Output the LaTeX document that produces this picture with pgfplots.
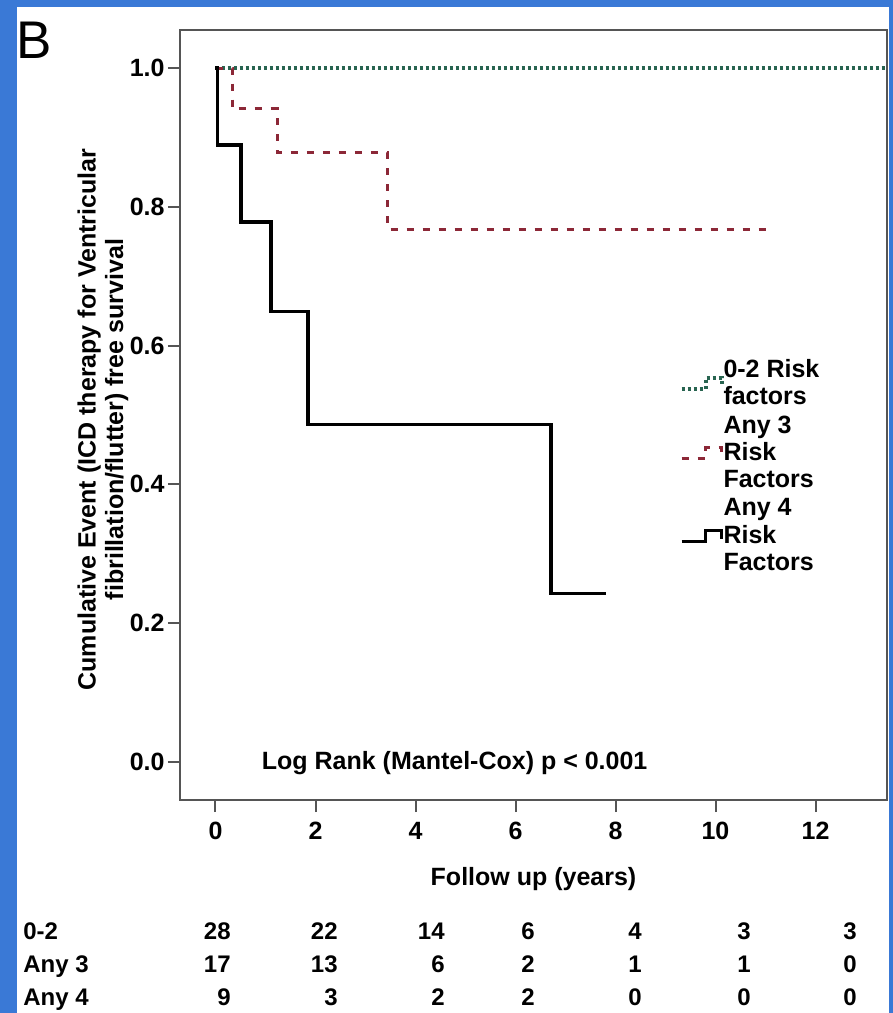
\documentclass[border=0pt]{standalone}
\usepackage{fontspec}
\setmainfont{Liberation Sans}
\usepackage{pgfplots}
\pgfplotsset{compat=1.18}

\definecolor{frameblue}{RGB}{58,121,214}
\definecolor{lowrisk}{RGB}{40,100,80}
\definecolor{midrisk}{RGB}{140,40,55}
\definecolor{axisgray}{RGB}{85,85,85}

\newcommand{\lbl}{\fontsize{12.5}{13.7}\selectfont\bfseries}
\newcommand{\lgd}{\fontsize{12.5}{13.6}\selectfont\bfseries}
\newcommand{\tbl}{\fontsize{12}{14}\selectfont\bfseries}

\begin{document}
\begin{tikzpicture}
% panel background with blue frame
\fill[frameblue] (0,0) rectangle (446.5pt,506.5pt);
\fill[white] (8.5pt,0) rectangle (444.5pt,503pt);
\useasboundingbox (0,0) rectangle (446.5pt,506.5pt);

\node[anchor=base west, inner sep=0pt, font=\fontsize{26.5}{30}\selectfont] at (8pt,477pt) {B};

\begin{axis}[
  at={(90pt,106.5pt)}, anchor=south west,
  scale only axis, width=353.5pt, height=385pt,
  xmin=-0.71, xmax=13.43, ymin=-0.0548, ymax=1.0548,
  xtick={0,2,...,12}, ytick={0,0.2,0.4,0.6,0.8,1},
  xtick pos=bottom, ytick pos=left, tick align=outside,
  major tick length=6pt,
  axis line style={draw=axisgray, line width=1pt},
  tick style={draw=axisgray, line width=1pt},
  ticklabel style={font=\lbl},
  /pgf/number format/assume math mode=true,
  yticklabel style={/pgf/number format/fixed, /pgf/number format/fixed zerofill,
    /pgf/number format/precision=1, inner sep=1.5pt},
  xticklabel style={yshift=-1.5pt},
  xlabel={Follow up (years)},
  xlabel style={font=\lbl, at={(axis description cs:0.5,0)}, anchor=base, yshift=-42.5pt},
  ylabel={Cumulative Event (ICD therapy for Ventricular\\fibrillation/flutter) free survival},
  ylabel style={font=\lbl, align=center, at={(axis description cs:-0.109,0.494)}, anchor=center},
  legend cell align=left,
  legend style={draw=none, fill=none, font=\lgd, at={(axis cs:9.28,0.581)}, anchor=north west,
    inner sep=0pt, row sep=4.1pt, nodes={inner sep=0pt, align=left},
    /tikz/every even column/.append style={column sep=2pt}},
  legend image code/.code={\draw[#1] (0pt,-2.75pt) -- (12pt,-2.75pt) -- (12pt,2.75pt) -- (20pt,2.75pt) -- (20pt,-1.5pt);},
]
\addplot[lowrisk, line width=1.8pt, dash pattern=on 1.5pt off 1.5pt, const plot]
  coordinates {(0,1) (13.43,1)};
\addlegendentry{0-2 Risk\\factors}
\addplot[midrisk, line width=1.5pt, dash pattern=on 3.5pt off 4.5pt, const plot]
  coordinates {(0,1) (0.33,0.941) (1.24,0.878) (3.44,0.768) (11.12,0.768)};
\addlegendentry{Any 3\\Risk\\Factors}
\addplot[black, line width=1.6pt, const plot]
  coordinates {(0,1) (0.04,0.889) (0.51,0.778) (1.11,0.649) (1.85,0.486) (6.71,0.243) (7.8,0.243)};
\addlegendentry{Any 4\\Risk\\Factors}

\node[anchor=base west, font=\lbl, inner sep=0pt] at (axis cs:0.92,-0.0115)
  {Log Rank (Mantel-Cox) p < 0.001};
\end{axis}

% numbers at risk
\begin{scope}[every node/.style={font=\tbl, inner sep=0pt}]
\node[anchor=base west] at (11.5pt,36.5pt) {0-2};
\node[anchor=base west] at (11.5pt,20pt) {Any 3};
\node[anchor=base west] at (11.5pt,4pt) {Any 4};
\foreach \x/\a/\b/\c in {115.5/28/17/9, 169/22/13/3, 222.5/14/6/2, 267.5/6/2/2,
                         321/4/1/0, 375.5/3/1/0, 428.5/3/0/0} {
  \node[anchor=base east] at (\x pt,36.5pt) {\a};
  \node[anchor=base east] at (\x pt,20pt) {\b};
  \node[anchor=base east] at (\x pt,4pt) {\c};
}
\end{scope}
\end{tikzpicture}
\end{document}
